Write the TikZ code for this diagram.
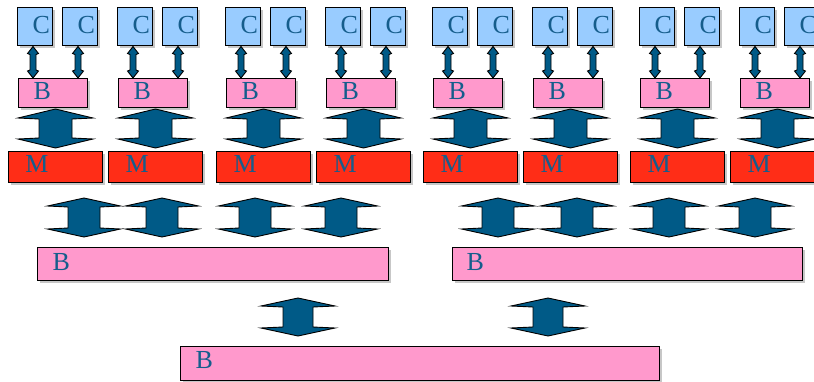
\documentclass[tikz,border=0pt]{standalone}
\usepackage{fontspec}
\setmainfont{Liberation Serif}
\usetikzlibrary{calc,shadows}
\definecolor{cblue}{HTML}{99CCFF}
\definecolor{bpink}{HTML}{FF99CC}
\definecolor{mred}{HTML}{FF2D17}
\definecolor{arrblue}{HTML}{005A87}
\definecolor{txtblue}{HTML}{155D8C}
% #1 top point, #2 bottom point, #3 top gap, #4 bottom gap, #5 half shaft, #6 half head, #7 head length
\newcommand\fatarrow[7]{%
  \path[fatarr] let \p1=#1, \p2=#2 in
    (\x1,{\y1-#3pt}) -- ({\x1+#6pt},{\y1-#3pt-#7pt}) -- ({\x1+#5pt},{\y1-#3pt-#7pt-1pt})
    -- ({\x1+#5pt},{\y2+#4pt+#7pt+1pt}) -- ({\x1+#6pt},{\y2+#4pt+#7pt}) -- (\x1,{\y2+#4pt})
    -- ({\x1-#6pt},{\y2+#4pt+#7pt}) -- ({\x1-#5pt},{\y2+#4pt+#7pt+1pt})
    -- ({\x1-#5pt},{\y1-#3pt-#7pt-1pt}) -- ({\x1-#6pt},{\y1-#3pt-#7pt}) -- cycle;}
\tikzset{
  boxbase/.style={draw=black, line width=1pt, inner sep=0pt, anchor=north west,
    align=left, font=\fontsize{26}{26}\selectfont, text=txtblue,
    drop shadow={shadow xshift=2pt, shadow yshift=-2pt, fill=black!22, opacity=1}},
  cbox/.style={boxbase, fill=cblue, text width=35pt, text height=26pt, text depth=12pt},
  bbox/.style={boxbase, fill=bpink, text width=69pt, text height=21pt, text depth=8pt},
  mbox/.style={boxbase, fill=mred, text width=94pt, text height=21pt, text depth=10pt},
  bigbox/.style={boxbase, fill=bpink, text height=23pt, text depth=10pt},
  fatarr/.style={fill=arrblue, draw=black, line width=0.9pt, line join=miter},
}
\begin{document}
\begin{tikzpicture}[x=1pt,y=-1pt]
\useasboundingbox (0,0) rectangle (814,381);
\clip (0,0) rectangle (814,381);
\foreach \bx [count=\i] in {18,118,226,326,433,533,640,740} {
  \node[cbox] (Ca\i) at (\bx-1,7) {\noindent\hspace*{15pt}C};
  \node[cbox] (Cb\i) at (\bx+44,7) {\noindent\hspace*{15pt}C};
  \node[bbox] (B\i) at (\bx,78) {\noindent\hspace*{15pt}B};
  \node[mbox] (M\i) at (\bx-10,151) {\noindent\hspace*{17pt}M};
}
\node[bigbox, text width=351pt] (BBa) at (37,247) {\noindent\hspace*{15pt}B};
\node[bigbox, text width=350pt] (BBb) at (452,247) {\noindent\hspace*{14pt}B};
\node[bigbox, text width=479pt, text height=22pt, text depth=12pt] (BBc) at (180,346) {\noindent\hspace*{15pt}B};
% small arrows C -- B
\foreach \i in {1,...,8} {
  \fatarrow{($(Ca\i.south)+(-2,0)$)}{($(B\i.north)$)}{0.5}{0}{3}{5.5}{7}
  \fatarrow{($(Cb\i.south)+(-2,0)$)}{($(B\i.north)$)}{0.5}{0}{3}{5.5}{7}
  \fatarrow{(M\i.north |- B\i.south)}{(M\i.north)}{1}{3}{16.5}{37.5}{9}
}
% arrows M -- big B
\foreach \ax/\i/\bb in {84/1/BBa,162/2/BBa,255/3/BBa,341/4/BBa,498/5/BBb,577/6/BBb,669/7/BBb,755/8/BBb} {
  \fatarrow{(\ax,0 |- M\i.south)}{(\ax,0 |- \bb.north)}{15}{10}{16}{36.5}{8}
}
% arrows big B -- bottom B
\fatarrow{(298,0 |- BBa.south)}{(298,0 |- BBc.north)}{17}{10}{15}{37}{8}
\fatarrow{(548,0 |- BBb.south)}{(548,0 |- BBc.north)}{17}{10}{15}{37}{8}
\end{tikzpicture}
\end{document}
